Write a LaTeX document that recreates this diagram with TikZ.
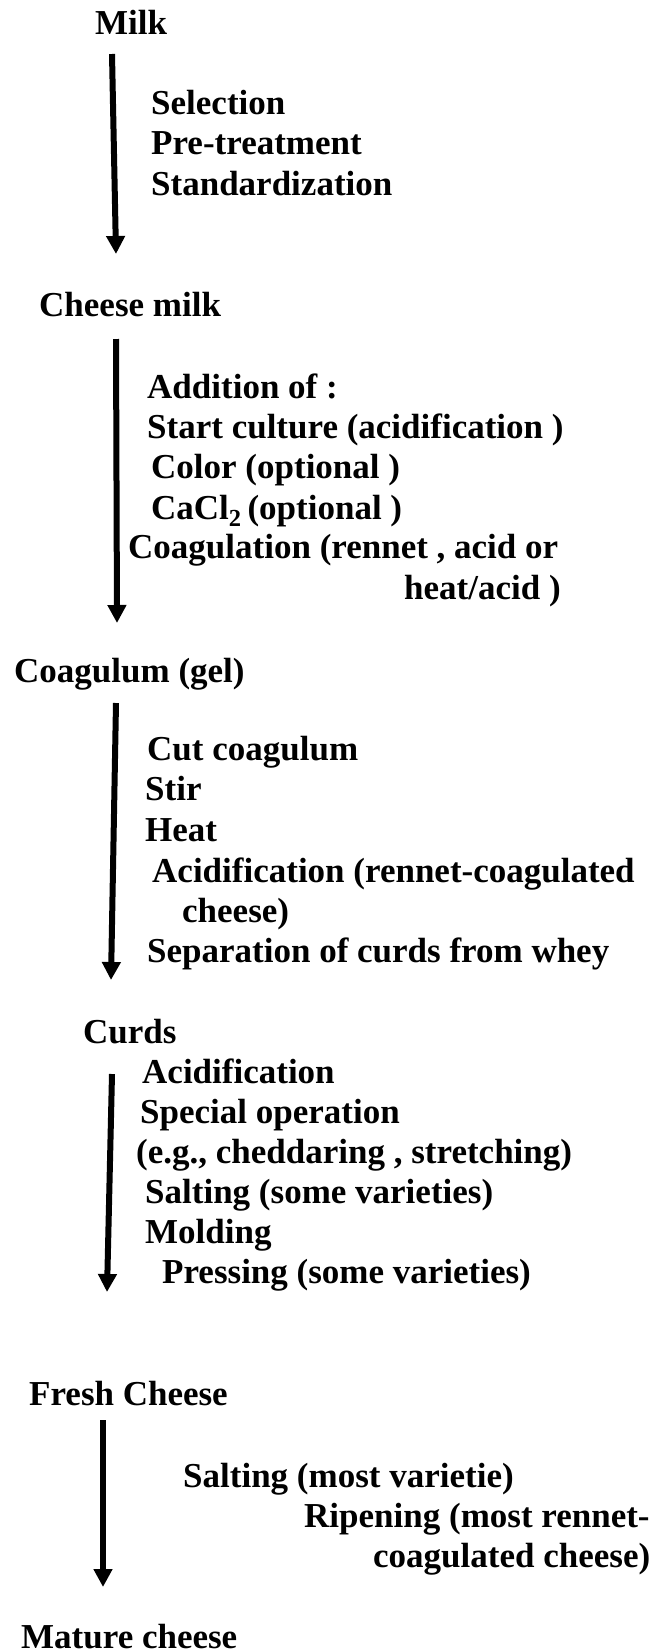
\documentclass[tikz,border=0pt]{standalone}
\usepackage{fontspec}
\setmainfont{Liberation Serif}
\usetikzlibrary{arrows.meta}

\begin{document}
\begin{tikzpicture}[
    x=1pt, y=-1pt,
    font=\fontsize{35}{40}\selectfont\bfseries,
    stage/.style={anchor=base west, inner sep=0pt},
    stepline/.style={anchor=base west, inner sep=0pt},
    flow/.style={-{Triangle[length=18pt, width=18pt]}, line width=6pt}
]
\useasboundingbox (0,0) rectangle (655,1650);

% Stages
\node[stage] (milk)   at (95, 34)   {Milk};
\node[stage] (cmilk)  at (39, 316)  {Cheese milk};
\node[stage] (gel)    at (14, 682)  {Coagulum (gel)};
\node[stage] (curds)  at (83, 1043) {Curds};
\node[stage] (fresh)  at (29, 1405) {Fresh Cheese};
\node[stage] (mature) at (21, 1648) {Mature cheese};

% Steps milk -> cheese milk
\node[stepline] (s11) at (151, 114) {Selection};
\node[stepline] (s12) at (151, 154) {Pre-treatment};
\node[stepline] (s13) at (151, 195) {Standardization};

% Steps cheese milk -> coagulum
\node[stepline] (s21) at (147, 398) {Addition of :};
\node[stepline] (s22) at (147, 438) {Start culture (acidification )};
\node[stepline] (s23) at (151, 478) {Color (optional )};
\node[stepline] (s24) at (151, 519) {CaCl\textsubscript{2}\,(optional )};
\node[stepline] (s25) at (128, 558) {Coagulation (rennet , acid or};
\node[stepline] (s26) at (404, 599) {heat/acid )};

% Steps coagulum -> curds
\node[stepline] (s31) at (147, 760) {Cut coagulum};
\node[stepline] (s32) at (145, 800) {Stir};
\node[stepline] (s33) at (145, 841) {Heat};
\node[stepline] (s34) at (152, 882) {Acidification (rennet-coagulated};
\node[stepline] (s35) at (182, 922) {cheese)};
\node[stepline] (s36) at (147, 962) {Separation of curds from whey};

% Steps curds -> fresh cheese
\node[stepline] (s41) at (142, 1083) {Acidification};
\node[stepline] (s42) at (140, 1123) {Special operation};
\node[stepline] (s43) at (136, 1163) {(e.g., cheddaring , stretching)};
\node[stepline] (s44) at (145, 1203) {Salting (some varieties)};
\node[stepline] (s45) at (145, 1243) {Molding};
\node[stepline] (s46) at (162, 1283) {Pressing (some varieties)};

% Steps fresh -> mature
\node[stepline] (s51) at (183, 1487) {Salting (most varietie)};
\node[stepline] (s52) at (304, 1527) {Ripening (most rennet-};
\node[stepline] (s53) at (373, 1567) {coagulated cheese)};

% Arrow ends
\coordinate (a1s) at (112, 54);   \coordinate (a1e) at (116, 254);
\coordinate (a2s) at (116, 339);  \coordinate (a2e) at (117, 623);
\coordinate (a3s) at (116, 703);  \coordinate (a3e) at (111, 980);
\coordinate (a4s) at (112, 1074); \coordinate (a4e) at (107, 1292);
\coordinate (a5s) at (103, 1420); \coordinate (a5e) at (103, 1587);

% Arrows
\draw[flow] (a1s) -- (a1e);
\draw[flow] (a2s) -- (a2e);
\draw[flow] (a3s) -- (a3e);
\draw[flow] (a4s) -- (a4e);
\draw[flow] (a5s) -- (a5e);

\end{tikzpicture}
\end{document}
